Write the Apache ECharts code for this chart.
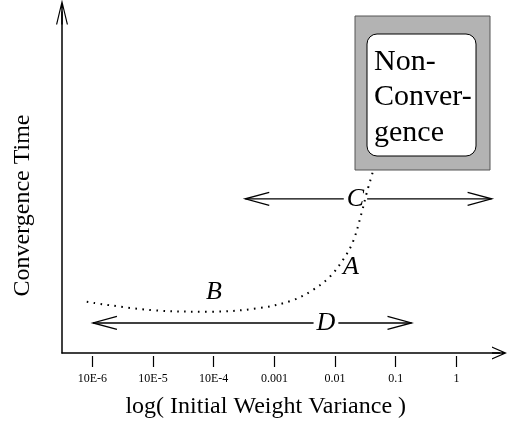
<!DOCTYPE html>
<html><head><meta charset="utf-8">
<script src="https://cdn.jsdelivr.net/npm/echarts@6/dist/echarts.min.js"></script>
<style>html,body{margin:0;padding:0;background:#fff}#c{width:507px;height:428px}</style>
</head><body><div id="c"></div>
<script>
// log10 of initial weight variance (x) vs convergence time (arbitrary units, y)
const tickValues = [-6, -5, -4, -3, -2, -1, 0];
const tickLabels = ['10E-6', '10E-5', '10E-4', '0.001', '0.01', '0.1', '1'];
const curveX = [-6.092, -5.049, -4.061, -3.237, -2.693, -2.364, -2.084, -1.870, -1.705, -1.562, -1.479, -1.376];
const curveY = [15.0, 12.6, 12.1, 13.2, 15.5, 18.5, 22.4, 27.3, 32.6, 41.1, 46.9, 53.2];
const arrowNames = ['C', 'D'];
const arrowStart = [-3.48, -5.99];
const arrowEnd = [0.58, -0.74];
const arrowLevel = [45.2, 8.8];
const arrowLabelX = [-1.664, -2.15];
const pointNames = ['A', 'B'];
const pointX = [-1.738, -3.997];
const pointY = [25.2, 17.9];

const FONT = "'Liberation Serif','Times New Roman',serif";
const chart = echarts.init(document.getElementById('c'), null, {renderer: 'canvas'});
const yArrow = 'path://M6,0L12,25L10.8,25L6.75,8.1L6.75,25L5.25,25L5.25,8.1L1.2,25L0,25Z';
const xArrow = 'path://M6.5,0L13,15L11.7,15L7.25,4.73L7.25,15L5.75,15L5.75,4.73L1.3,15L0,15Z';

chart.setOption({
  animation: false,
  grid: {left: 62, top: 12, right: 7.5, bottom: 75},
  xAxis: [{
    type: 'value', min: -6.5, max: 0.71, position: 'bottom',
    name: 'log( Initial Weight Variance )', nameLocation: 'middle', nameGap: 42,
    nameTextStyle: {fontFamily: FONT, fontSize: 24, color: '#000', padding: [0, 30, 0, 0]},
    axisLine: {show: true, onZero: false, symbol: ['none', xArrow], symbolSize: [13, 15], lineStyle: {color: '#000', width: 1.5}},
    axisTick: {show: false}, axisLabel: {show: false}, splitLine: {show: false}
  }, {
    type: 'value', min: -6.5, max: 0.71, position: 'bottom', offset: 3,
    axisLine: {show: false, onZero: false},
    axisTick: {show: true, customValues: tickValues, length: 11, lineStyle: {color: '#000', width: 1.2}},
    axisLabel: {show: true, customValues: tickValues, margin: 17, fontFamily: FONT, fontSize: 12, color: '#000',
      formatter: v => tickLabels[tickValues.indexOf(v)] || ''},
    splitLine: {show: false}
  }],
  yAxis: {
    type: 'value', min: 0, max: 100, position: 'left',
    name: 'Convergence Time', nameLocation: 'middle', nameGap: 27,
    nameTextStyle: {fontFamily: FONT, fontSize: 24, color: '#000', padding: [0, 46, 0, 0]},
    axisLine: {show: true, onZero: false, symbol: ['none', yArrow], symbolSize: [12, 25], lineStyle: {color: '#000', width: 1.5}},
    axisTick: {show: false}, axisLabel: {show: false}, splitLine: {show: false}
  },
  series: [{
    type: 'custom', z: 2,
    data: arrowNames.map((n, i) => [arrowStart[i], arrowEnd[i], arrowLevel[i], arrowLabelX[i]]),
    renderItem: function (params, api) {
      const p1 = api.coord([api.value(0), api.value(2)]);
      const p2 = api.coord([api.value(1), api.value(2)]);
      const pl = api.coord([api.value(3), api.value(2)]);
      const L = 24, H = 6.5;
      const st = {stroke: '#000', lineWidth: 1.3, fill: null};
      return {type: 'group', children: [
        {type: 'line', shape: {x1: p1[0], y1: p1[1], x2: p2[0], y2: p2[1]}, style: st},
        {type: 'polyline', shape: {points: [[p1[0] + L, p1[1] - H], p1, [p1[0] + L, p1[1] + H]]}, style: st},
        {type: 'polyline', shape: {points: [[p2[0] - L, p2[1] - H], p2, [p2[0] - L, p2[1] + H]]}, style: st},
        {type: 'text', x: pl[0], y: pl[1], style: {text: arrowNames[params.dataIndex],
          font: 'italic 26px ' + FONT, fill: '#000', align: 'center', verticalAlign: 'middle',
          backgroundColor: '#fff', padding: [0, 3]}}
      ]};
    }
  }, {
    type: 'line', z: 3, smooth: 0.35, showSymbol: false, symbol: 'none',
    data: curveX.map((x, i) => [x, curveY[i]]),
    lineStyle: {color: '#000', width: 2, type: [1.6, 5.4]}
  }, {
    type: 'custom', z: 4,
    data: pointNames.map((n, i) => [pointX[i], pointY[i]]),
    renderItem: function (params, api) {
      const p = api.coord([api.value(0), api.value(1)]);
      return {type: 'text', x: p[0], y: p[1], style: {text: pointNames[params.dataIndex],
        font: 'italic 26px ' + FONT, fill: '#000', align: 'center', verticalAlign: 'middle'}};
    }
  }],
  graphic: [{
    type: 'group', z: 10,
    children: [
      {type: 'rect', shape: {x: 355, y: 16, width: 135, height: 154}, style: {fill: '#b3b3b3', stroke: '#555', lineWidth: 1}},
      {type: 'rect', shape: {x: 367, y: 34, width: 109, height: 122, r: 10}, style: {fill: '#fff', stroke: '#000', lineWidth: 1}},
      {type: 'text', x: 374, y: 44, style: {text: 'Non-\nConver-\ngence', font: '30px ' + FONT, lineHeight: 35.5, fill: '#000', verticalAlign: 'top'}}
    ]
  }]
});
</script></body></html>
